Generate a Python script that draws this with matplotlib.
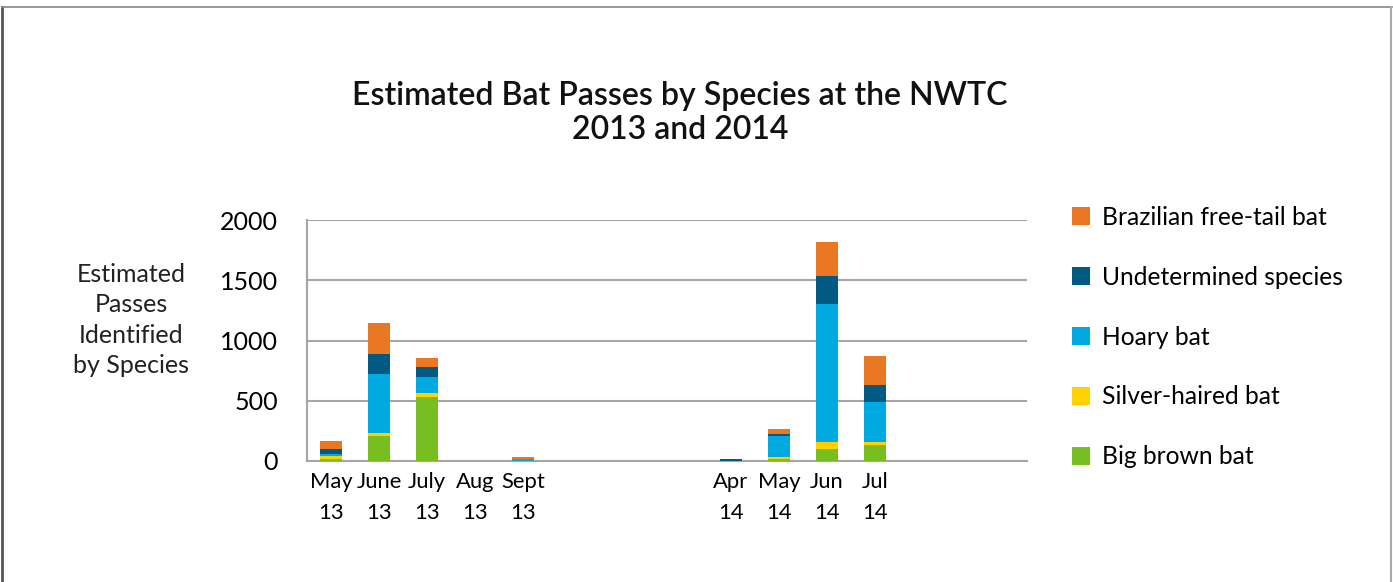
import numpy as np
import matplotlib
matplotlib.use("Agg")
import matplotlib.pyplot as plt
from matplotlib.patches import Patch
from matplotlib.lines import Line2D

plt.rcParams['font.family'] = ['Lato', 'DejaVu Sans']

# Data
months = ["May\n13", "June\n13", "July\n13", "Aug\n13", "Sept\n13",
          "Apr\n14", "May\n14", "Jun\n14", "Jul\n14"]
big_brown = [20, 207, 531, 0, 0, 0, 19, 102, 133]
silver_haired = [20, 28, 33, 0, 0, 0, 17, 58, 27]
hoary = [18, 487, 133, 0, 18, 0, 171, 1143, 332]
undetermined = [42, 166, 83, 0, 0, 17, 20, 232, 141]
brazilian = [66, 257, 75, 0, 15, 0, 39, 282, 238]

series = [
    ("Big brown bat", big_brown, "#78BE20"),
    ("Silver-haired bat", silver_haired, "#FFD100"),
    ("Hoary bat", hoary, "#00A9E0"),
    ("Undetermined species", undetermined, "#005A82"),
    ("Brazilian free-tail bat", brazilian, "#EA7722"),
]

# 2013 and 2014 groups, with a gap between them
x = np.r_[np.arange(5), np.arange(4) + 8.33]

fig = plt.figure(figsize=(13.93, 5.82), dpi=100)
ax = fig.add_axes([307 / 1393, 121 / 582, 720 / 1393, 241 / 582])

bottom = np.zeros(len(months))
for name, vals, color in series:
    vals = np.array(vals, dtype=float)
    ax.bar(x, vals, width=0.46, bottom=bottom, color=color, label=name, zorder=3)
    bottom += vals

ax.set_xlim(-0.5, 14.5)
ax.set_ylim(0, 2000)
ax.set_yticks([0, 500, 1000, 1500, 2000])
ax.set_xticks(x)
ax.set_xticklabels(months, fontsize=15.8, linespacing=1.7)
ax.tick_params(axis='y', labelsize=18, length=0, pad=21)
ax.tick_params(axis='x', length=0, pad=8)
ax.yaxis.grid(True, color="#a6a6a6", linewidth=1.5, zorder=0)
for s in ["top", "right"]:
    ax.spines[s].set_visible(False)
for s in ["left", "bottom"]:
    ax.spines[s].set_color("#a6a6a6")
    ax.spines[s].set_linewidth(1.5)

fig.text(680 / 1393, 1 - 113 / 582,
         "Estimated Bat Passes by Species at the NWTC\n2013 and 2014",
         ha="center", va="center", fontsize=23, fontweight="semibold",
         linespacing=1.15, color="#111111")

fig.text(131 / 1393, 1 - 320 / 582,
         "Estimated\nPasses\nIdentified\nby Species",
         ha="center", va="center", fontsize=18, linespacing=1.38, color="#222222")

handles = [Patch(facecolor=c, label=n) for n, v, c in series][::-1]
fig.legend(handles=handles, loc="upper left", bbox_to_anchor=(1062 / 1393, 1 - 196 / 582),
           frameon=False, fontsize=17.7, handlelength=0.73, handleheight=0.73,
           handletextpad=0.49, labelspacing=1.5, borderaxespad=0)

# outer frame
fig.add_artist(Line2D([0.0015, 0.0015], [0, 1 - 7 / 582], color="#555555", lw=2,
                      transform=fig.transFigure))
fig.add_artist(Line2D([0.0015, 0.999], [1 - 7 / 582, 1 - 7 / 582], color="#888888", lw=1.2,
                      transform=fig.transFigure))
fig.add_artist(Line2D([0.9985, 0.9985], [0, 1 - 7 / 582], color="#aaaaaa", lw=1.5,
                      transform=fig.transFigure))

fig.savefig("out.png", dpi=100)
